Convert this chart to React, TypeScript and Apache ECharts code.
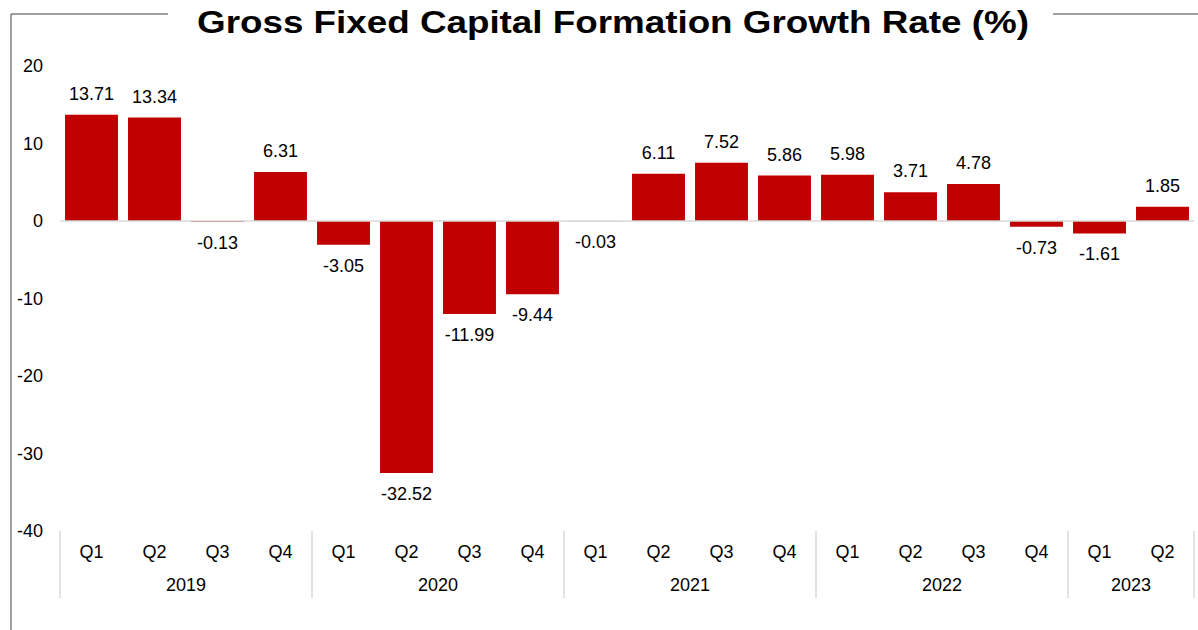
import React, { useEffect, useRef } from "react";
import * as echarts from "echarts";

const quarters = ["Q1","Q2","Q3","Q4","Q1","Q2","Q3","Q4","Q1","Q2","Q3","Q4","Q1","Q2","Q3","Q4","Q1","Q2"];
const years = ["2019","2019","2019","2019","2020","2020","2020","2020","2021","2021","2021","2021","2022","2022","2022","2022","2023","2023"];
const values = [13.71, 13.34, -0.13, 6.31, -3.05, -32.52, -11.99, -9.44, -0.03, 6.11, 7.52, 5.86, 5.98, 3.71, 4.78, -0.73, -1.61, 1.85];
const yTicks = { min: -40, max: 20, interval: 10 };
const titleText = "Gross Fixed Capital Formation Growth Rate (%)";

const FONT = "'Liberation Sans', Arial, sans-serif";

export default function App() {
  const ref = useRef<HTMLDivElement>(null);
  useEffect(() => {
    if (!ref.current) return;
    const chart = echarts.init(ref.current, null, { renderer: "svg" });

    const starts: number[] = [];
    years.forEach((y, i) => { if (i === 0 || y !== years[i - 1]) starts.push(i); });
    const labelIdx = new Set<number>();
    starts.forEach((s, k) => {
      const end = k + 1 < starts.length ? starts[k + 1] : years.length;
      const count = end - s;
      labelIdx.add(s + count / 2 - 1);
    });

    const data = values.map((v) => ({
      value: v,
      label: { position: v < 0 ? "bottom" : "top" },
    }));

    chart.setOption({
      animation: false,
      textStyle: { fontFamily: FONT },
      graphic: [
        { type: "line", shape: { x1: 11, y1: 14, x2: 168, y2: 14 }, style: { stroke: "#808080", lineWidth: 1.5 } },
        { type: "line", shape: { x1: 1053, y1: 14, x2: 1198, y2: 14 }, style: { stroke: "#808080", lineWidth: 1.5 } },
        { type: "line", shape: { x1: 11, y1: 14, x2: 11, y2: 630 }, style: { stroke: "#808080", lineWidth: 1.5 } },
        {
          type: "text",
          x: 613,
          y: 22,
          scaleX: 1.15,
          style: {
            text: titleText,
            fontSize: 32,
            fontWeight: "bold",
            fontFamily: FONT,
            fill: "#000",
            textAlign: "center",
            textVerticalAlign: "middle",
          },
        },
      ],
      grid: { left: 60, right: 4, top: 66, bottom: 99, containLabel: false },
      xAxis: [
        {
          type: "category",
          data: quarters,
          position: "bottom",
          axisLine: { show: false },
          axisTick: { show: false },
          axisLabel: { interval: 0, margin: 12, fontSize: 18, color: "#000", fontFamily: FONT },
        },
        {
          type: "category",
          data: years,
          position: "bottom",
          axisLine: { show: false },
          axisTick: {
            show: true,
            interval: (i: number) => i === 0 || years[i] !== years[i - 1],
            length: 67,
            lineStyle: { color: "#d9d9d9", width: 1.5 },
          },
          axisLabel: {
            interval: (i: number) => labelIdx.has(i),
            margin: 45,
            fontSize: 18,
            color: "#000",
            fontFamily: FONT,
            padding: [0, 0, 0, 63],
          },
        },
      ],
      yAxis: {
        type: "value",
        min: yTicks.min,
        max: yTicks.max,
        interval: yTicks.interval,
        axisLine: { show: false },
        axisTick: { show: false },
        splitLine: { show: false },
        axisLabel: { margin: 17, fontSize: 18, color: "#000", fontFamily: FONT },
      },
      series: [
        {
          type: "bar",
          xAxisIndex: 0,
          data,
          barCategoryGap: "16%",
          itemStyle: { color: "#c00000" },
          label: {
            show: true,
            distance: 12,
            fontSize: 18,
            color: "#000",
            fontFamily: FONT,
            formatter: (p: any) => Number(p.value).toFixed(2),
          },
          markLine: {
            silent: true,
            symbol: "none",
            label: { show: false },
            lineStyle: { color: "#d9d9d9", width: 1.5, type: "solid" },
            data: [{ yAxis: 0 }],
          },
        },
      ],
    });
    return () => chart.dispose();
  }, []);
  return (
    <div
      ref={ref}
      style={{ position: "absolute", left: 0, top: 0, width: 1198, height: 630, background: "#fff" }}
    />
  );
}
